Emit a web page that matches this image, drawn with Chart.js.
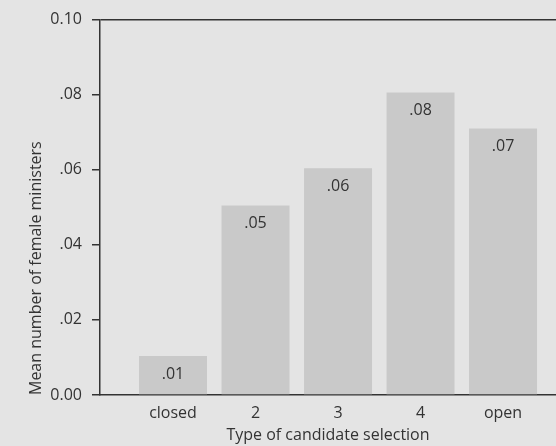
<!DOCTYPE html>
<html>
<head>
<meta charset="utf-8">
<script src="https://cdn.jsdelivr.net/npm/chart.js@4"></script>
<style>
  html, body { margin: 0; padding: 0; background: #e4e4e4; overflow: hidden; }
  #wrap { width: 556px; height: 446px; position: relative; }
</style>
</head>
<body>
<div id="wrap"><canvas id="chart"></canvas></div>
<script>
// Data
const categories = ['closed', '2', '3', '4', 'open'];
const meanFemale = [0.0104, 0.0505, 0.0604, 0.0806, 0.0710];
const valueLabels = ['.01', '.05', '.06', '.08', '.07'];
const yTickValues = [0, 0.02, 0.04, 0.06, 0.08, 0.10];
const yTickLabels = ['0.00', '.02', '.04', '.06', '.08', '0.10'];

const ink = '#333333';
const fontFamily = "'Open Sans', 'DejaVu Sans', sans-serif";

// Draw the rounded value inside the top of each bar
const valueLabelPlugin = {
  id: 'valueLabels',
  afterDatasetsDraw(chart) {
    const ctx = chart.ctx;
    const meta = chart.getDatasetMeta(0);
    ctx.save();
    ctx.fillStyle = ink;
    ctx.font = '16px ' + fontFamily;
    ctx.textAlign = 'center';
    ctx.textBaseline = 'middle';
    meta.data.forEach((bar, i) => {
      ctx.fillText(valueLabels[i], bar.x, bar.y + 18);
    });
    ctx.restore();
  }
};

new Chart(document.getElementById('chart'), {
  type: 'bar',
  data: {
    datasets: [{
      data: categories.map((c, i) => ({ x: i, y: meanFemale[i] })),
      backgroundColor: '#c9c9c9',
      borderWidth: 0,
      categoryPercentage: 1,
      barPercentage: 0.824
    }]
  },
  options: {
    responsive: true,
    maintainAspectRatio: false,
    animation: false,
    layout: { padding: { top: 19, right: 0, left: 0, bottom: 0 } },
    plugins: {
      legend: { display: false },
      tooltip: { enabled: false }
    },
    scales: {
      x: {
        type: 'linear',
        offset: false,
        min: -0.885,
        max: 4.642,
        afterBuildTicks: (scale) => {
          scale.ticks = categories.map((c, i) => ({ value: i }));
        },
        afterFit: (scale) => { scale.height = 51; },
        grid: { display: false },
        border: { display: true, color: ink, width: 1.5 },
        ticks: {
          color: ink,
          font: { family: fontFamily, size: 16 },
          padding: 1,
          maxRotation: 0,
          callback: (v) => categories[v] ?? ''
        },
        title: {
          display: true,
          text: 'Type of candidate selection',
          color: ink,
          font: { family: fontFamily, size: 16 },
          padding: { top: 0, bottom: 1 }
        }
      },
      y: {
        min: 0,
        max: 0.10,
        afterBuildTicks: (scale) => {
          scale.ticks = yTickValues.map(v => ({ value: v }));
        },
        afterFit: (scale) => { scale.width = 100; },
        grid: {
          drawOnChartArea: true,
          color: (c) => (c.tick && Math.abs(c.tick.value - 0.10) < 1e-9) ? ink : 'transparent',
          lineWidth: 1.5,
          tickColor: ink,
          tickLength: 8
        },
        border: { display: true, color: ink, width: 1.5 },
        ticks: {
          color: ink,
          font: { family: fontFamily, size: 16 },
          padding: 10,
          callback: (v) => {
            const i = yTickValues.findIndex(t => Math.abs(t - v) < 1e-9);
            return i >= 0 ? yTickLabels[i] : '';
          }
        },
        title: {
          display: true,
          text: 'Mean number of female ministers',
          align: 'start',
          color: ink,
          font: { family: fontFamily, size: 16 },
          padding: { top: 27, bottom: 0 }
        }
      }
    }
  },
  plugins: [valueLabelPlugin]
});
</script>
</body>
</html>
